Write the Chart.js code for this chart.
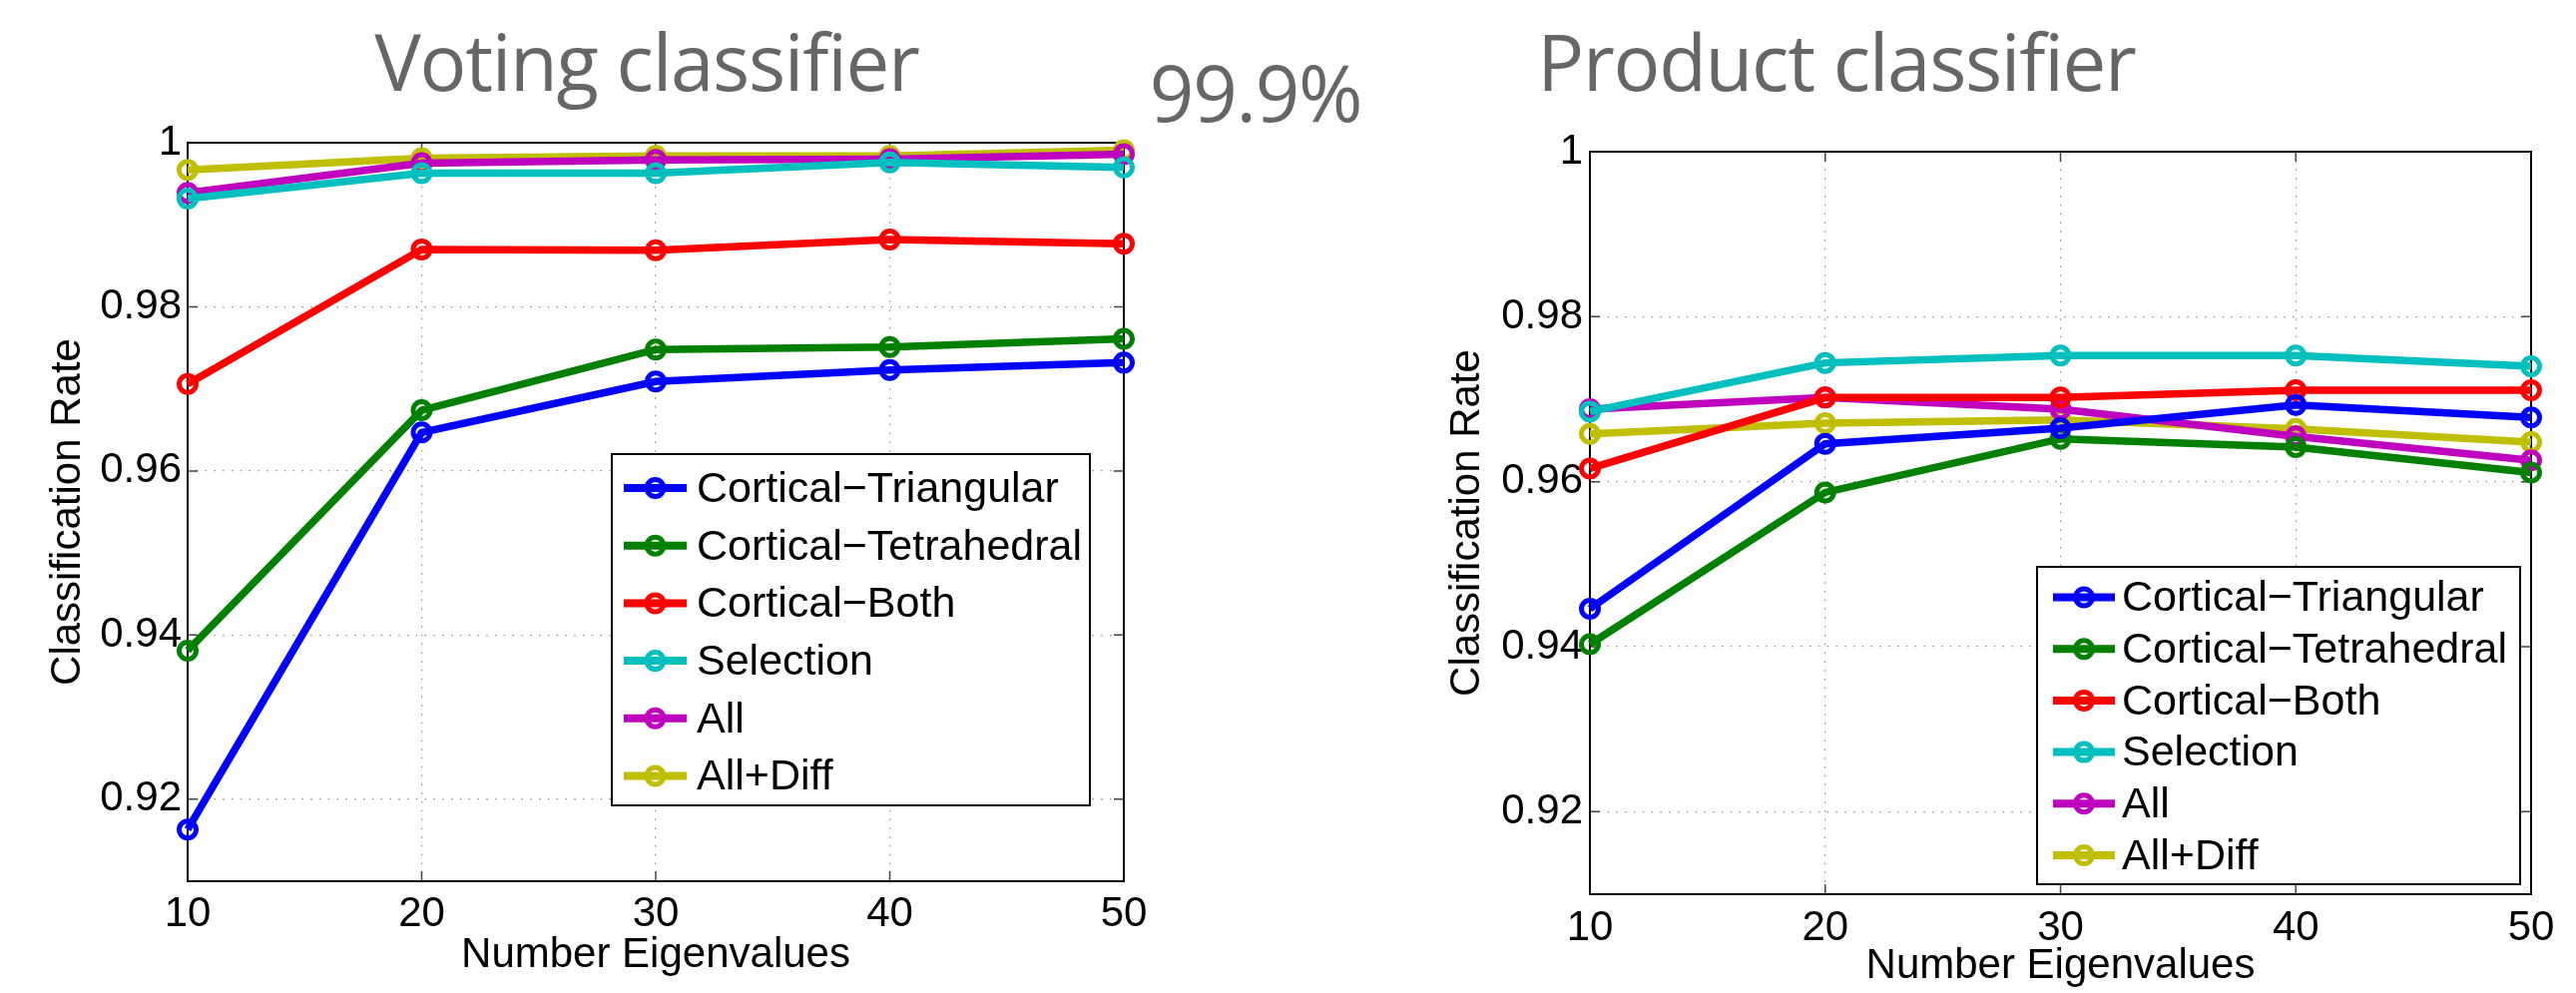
<!DOCTYPE html>
<html>
<head>
<meta charset="utf-8">
<script src="https://cdn.jsdelivr.net/npm/chart.js@4.4.1/dist/chart.umd.min.js"></script>
<style>
    body { margin: 0; width: 2581px; height: 995px; background: #fff; position: relative; overflow: hidden; }
    .title { position: absolute; font-family: "Open Sans"; color: #666; font-size: 78px; line-height: 1; letter-spacing: -1.3px; white-space: nowrap; transform: translateX(-50%); }
    #box1 { position: absolute; left: 0; top: 100px; width: 1200px; height: 895px; }
    #box2 { position: absolute; left: 1400px; top: 100px; width: 1181px; height: 895px; }
</style>
</head>
<body>
<div class="title" style="left:648px; top:22px;">Voting classifier</div>
<div class="title" style="left:1258px; top:53px;">99.9%</div>
<div class="title" style="left:1840px; top:22px;">Product classifier</div>
<div id="box1"><canvas id="Chart1"></canvas></div>
<div id="box2"><canvas id="Chart2"></canvas></div>
<script>
const eigenCounts = ['10', '20', '30', '40', '50'];
const seriesNames = ['Cortical−Triangular', 'Cortical−Tetrahedral', 'Cortical−Both', 'Selection', 'All', 'All+Diff'];
const seriesColors = ['#0000ff', '#008000', '#ff0000', '#00bfbf', '#bf00bf', '#bfbf00'];

const votingTriangular = [0.9163, 0.9647, 0.9709, 0.9723, 0.9732];
const votingTetrahedral = [0.9381, 0.9674, 0.9748, 0.9751, 0.9761];
const votingBoth = [0.9706, 0.9870, 0.9869, 0.9882, 0.9877];
const votingSelection = [0.9932, 0.9963, 0.9963, 0.9976, 0.9970];
const votingAll = [0.9939, 0.9975, 0.9979, 0.9980, 0.9986];
const votingAllDiff = [0.9967, 0.9981, 0.9984, 0.9984, 0.9991];

const productTriangular = [0.9446, 0.9646, 0.9665, 0.9693, 0.9678];
const productTetrahedral = [0.9403, 0.9587, 0.9652, 0.9642, 0.9611];
const productBoth = [0.9616, 0.9702, 0.9702, 0.9711, 0.9711];
const productSelection = [0.9685, 0.9744, 0.9753, 0.9753, 0.9740];
const productAll = [0.9688, 0.9702, 0.9688, 0.9655, 0.9626];
const productAllDiff = [0.9658, 0.9671, 0.9675, 0.9664, 0.9648];

const yTicks = [0.92, 0.94, 0.96, 0.98, 1];
const yTickLabels = ['0.92', '0.94', '0.96', '0.98', '1'];

Chart.defaults.font.family = '"Liberation Sans", Arial, Helvetica, sans-serif';
Chart.defaults.color = '#000';

// box around the axes with small inward tick marks, like matlab
const framePlugin = {
    id: 'frame',
    beforeDatasetsDraw(chart) {
        const ctx = chart.ctx;
        const a = chart.chartArea;
        const xs = chart.scales.x;
        const ys = chart.scales.y;
        ctx.save();
        ctx.strokeStyle = '#444';
        ctx.lineWidth = 1.5;
        ctx.beginPath();
        eigenCounts.forEach((c, i) => {
            const px = xs.getPixelForValue(i);
            ctx.moveTo(px, a.bottom); ctx.lineTo(px, a.bottom - 10);
            ctx.moveTo(px, a.top); ctx.lineTo(px, a.top + 10);
        });
        yTicks.forEach(v => {
            const py = ys.getPixelForValue(v);
            ctx.moveTo(a.left, py); ctx.lineTo(a.left + 10, py);
            ctx.moveTo(a.right, py); ctx.lineTo(a.right - 10, py);
        });
        ctx.stroke();
        ctx.strokeStyle = '#000';
        ctx.lineWidth = 2;
        ctx.strokeRect(a.left, a.top, a.right - a.left, a.bottom - a.top);
        ctx.restore();
    }
};

function legendPlugin(box) {
    return {
        id: 'boxLegend',
        afterDatasetsDraw(chart) {
            const ctx = chart.ctx;
            ctx.save();
            ctx.fillStyle = '#fff';
            ctx.fillRect(box.left, box.top, box.right - box.left, box.bottom - box.top);
            ctx.strokeStyle = '#000';
            ctx.lineWidth = 2;
            ctx.strokeRect(box.left, box.top, box.right - box.left, box.bottom - box.top);
            ctx.font = '43px "Liberation Sans", Arial, sans-serif';
            ctx.textBaseline = 'middle';
            chart.data.datasets.forEach((ds, i) => {
                const y = box.firstRow + i * box.rowStep;
                ctx.strokeStyle = ds.borderColor;
                ctx.lineWidth = 8;
                ctx.beginPath();
                ctx.moveTo(box.lineStart, y);
                ctx.lineTo(box.lineEnd, y);
                ctx.stroke();
                ctx.lineWidth = 5;
                ctx.beginPath();
                ctx.arc((box.lineStart + box.lineEnd) / 2, y, 8.5, 0, Math.PI * 2);
                ctx.stroke();
                ctx.fillStyle = '#000';
                ctx.fillText(ds.label, box.textX, y + 2);
            });
            ctx.restore();
        }
    };
}

function makeDatasets(seriesList) {
    return seriesList.map((values, i) => ({
        label: seriesNames[i],
        data: values,
        borderColor: seriesColors[i],
        backgroundColor: seriesColors[i],
        borderWidth: 7.5,
        pointRadius: 8.5,
        pointBorderWidth: 5,
        pointBackgroundColor: 'rgba(0,0,0,0)',
        pointBorderColor: seriesColors[i],
        tension: 0,
        clip: false
    }));
}

function makeChart(canvasId, seriesList, lay, legendBox) {
    const ctx = document.getElementById(canvasId).getContext('2d');
    return new Chart(ctx, {
        type: 'line',
        data: {
            labels: eigenCounts,
            datasets: makeDatasets(seriesList)
        },
        options: {
            responsive: true,
            maintainAspectRatio: false,
            animation: false,
            layout: {padding: lay.padding, autoPadding: false},
            plugins: {legend: {display: false}, tooltip: {enabled: false}},
            scales: {
                x: {
                    type: 'category',
                    offset: false,
                    afterFit: s => { s.height = lay.xHeight; },
                    grid: {color: '#8c8c8c', lineWidth: 1.2, drawTicks: false},
                    border: {display: false, dash: [1.5, 7.3]},
                    ticks: {padding: lay.xTickPad, font: {size: 42}, maxRotation: 0},
                    title: {display: true, text: 'Number Eigenvalues', font: {size: 42}, padding: {top: 0, bottom: lay.xTitlePad}}
                },
                y: {
                    type: 'linear',
                    min: 0.91,
                    max: 1,
                    afterFit: s => { s.width = lay.yWidth; },
                    afterBuildTicks: s => { s.ticks = yTicks.map(v => ({value: v})); },
                    grid: {color: '#8c8c8c', lineWidth: 1.2, drawTicks: false},
                    border: {display: false, dash: [1.5, 7.3]},
                    ticks: {
                        padding: lay.yTickPad,
                        font: {size: 42},
                        callback: (v, i) => yTickLabels[i]
                    },
                    title: {display: true, text: 'Classification Rate', font: {size: 42}, padding: {top: lay.yTitlePad, bottom: 0}}
                }
            }
        },
        plugins: [framePlugin, legendPlugin(legendBox)]
    });
}

makeChart('Chart1',
    [votingTriangular, votingTetrahedral, votingBoth, votingSelection, votingAll, votingAllDiff],
    {padding: {top: 43, right: 74, left: 0, bottom: 0}, xHeight: 112, yWidth: 188, xTickPad: 8, xTitlePad: 12, yTickPad: 6, yTitlePad: 43},
    {left: 613, top: 355, right: 1092, bottom: 707, firstRow: 389, rowStep: 57.7, lineStart: 625, lineEnd: 688, textX: 698});

makeChart('Chart2',
    [productTriangular, productTetrahedral, productBoth, productSelection, productAll, productAllDiff],
    {padding: {top: 52, right: 45, left: 0, bottom: 0}, xHeight: 99, yWidth: 193, xTickPad: 9, xTitlePad: 1, yTickPad: 7, yTitlePad: 45},
    {left: 641, top: 468, right: 1125, bottom: 786, firstRow: 498.5, rowStep: 51.7, lineStart: 657, lineEnd: 719, textX: 726});
</script>
</body>
</html>
